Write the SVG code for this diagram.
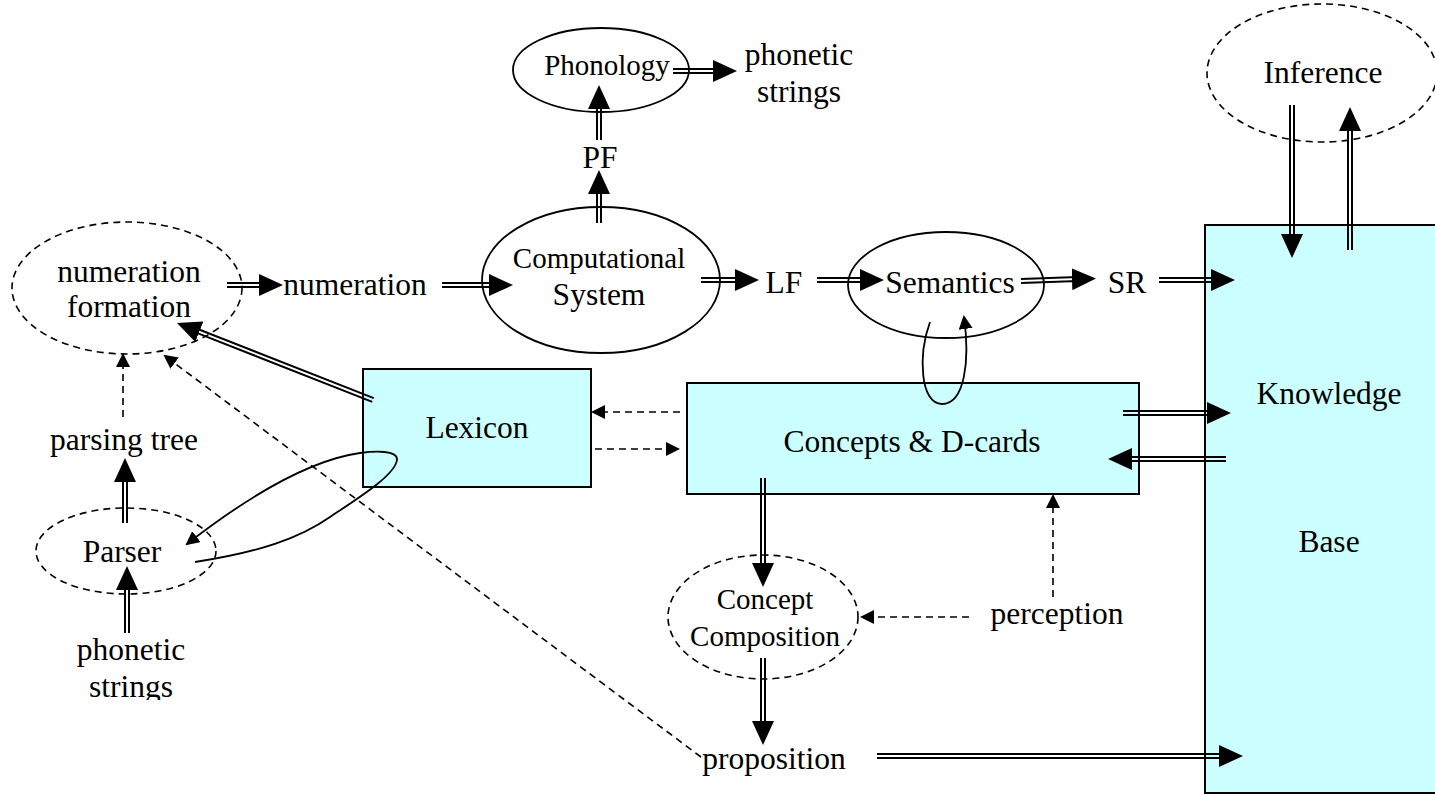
<svg xmlns="http://www.w3.org/2000/svg" width="1435" height="796" viewBox="0 0 1435 796">
<style>
.t{font-family:"Liberation Serif","Times New Roman",serif;font-size:31.5px;text-anchor:middle;fill:#000}
.s{font-size:29px}
.box{fill:#CCFFFF;stroke:#000;stroke-width:2}
.el{fill:none;stroke:#000;stroke-width:1.8}
.ed{fill:none;stroke:#000;stroke-width:1.6;stroke-dasharray:7 5}
.dl{fill:none;stroke:#000;stroke-width:2}
.mid{fill:none;stroke:none}
.dash{fill:none;stroke:#000;stroke-width:1.6;stroke-dasharray:7 5}
.cv{fill:none;stroke:#000;stroke-width:1.8}
</style>
<defs>
<marker id="big" viewBox="0 0 24 22" refX="6" refY="11" markerWidth="24" markerHeight="22" markerUnits="userSpaceOnUse" orient="auto"><path d="M0,0L24,11L0,22z" fill="#000"/></marker>
<marker id="sm" viewBox="0 0 14 14" refX="12" refY="7" markerWidth="14" markerHeight="14" markerUnits="userSpaceOnUse" orient="auto"><path d="M0,0L14,7L0,14z" fill="#000"/></marker>
<clipPath id="clipb"><rect x="0" y="0" width="400" height="700"/></clipPath>
</defs>

<g id="knowledge-base"><rect class="box" x="1205" y="225" width="240" height="568"/><text class="t" x="1329" y="404">Knowledge</text><text class="t" x="1329" y="552">Base</text></g>
<g id="concepts"><rect class="box" x="687" y="383" width="452" height="111"/><text class="t" x="912" y="452">Concepts &amp; D-cards</text></g>
<g id="lexicon"><rect class="box" x="363" y="369" width="228" height="118"/><text class="t" x="477" y="438">Lexicon</text></g>
<g id="phonology"><ellipse class="el" cx="601" cy="70" rx="88" ry="42"/><text class="t s" x="607" y="75">Phonology</text></g>
<g id="phonetic-strings-out"><text class="t" x="799" y="65">phonetic</text><text class="t" x="799" y="102">strings</text></g>
<g id="pf"><text class="t" x="600" y="168">PF</text></g>
<g id="computational-system"><ellipse class="el" cx="601" cy="280" rx="119" ry="73"/><text class="t s" x="599" y="268">Computational</text><text class="t" x="599" y="305">System</text></g>
<g id="numeration-formation"><ellipse class="ed" cx="127" cy="288" rx="115" ry="66"/><text class="t" x="129" y="282">numeration</text><text class="t" x="129" y="317">formation</text></g>
<g id="numeration"><text class="t" x="355" y="295">numeration</text></g>
<g id="lf"><text class="t" x="784" y="293">LF</text></g>
<g id="semantics"><ellipse class="el" cx="946" cy="285" rx="98" ry="53"/><text class="t" x="950" y="293">Semantics</text></g>
<g id="sr"><text class="t" x="1127" y="293">SR</text></g>
<g id="inference"><ellipse class="ed" cx="1322" cy="73" rx="115" ry="69"/><text class="t" x="1323" y="83">Inference</text></g>
<g id="parsing-tree"><text class="t" x="124" y="450">parsing tree</text></g>
<g id="parser"><ellipse class="ed" cx="126" cy="551" rx="90" ry="43"/><text class="t" x="122" y="562">Parser</text></g>
<g id="phonetic-strings-in" clip-path="url(#clipb)"><text class="t" x="131" y="660">phonetic</text><text class="t" x="131" y="697">strings</text></g>
<g id="concept-composition"><ellipse class="ed" cx="763" cy="617" rx="95" ry="62"/><text class="t s" x="765" y="609">Concept</text><text class="t s" x="765" y="646">Composition</text></g>
<g id="perception"><text class="t" x="1057" y="624">perception</text></g>
<g id="proposition"><text class="t" x="774" y="769">proposition</text></g>

<g id="connectors">
<!-- double arrows -->
<g transform="translate(673,71)"><path class="dl" d="M0,-2H46M0,2H46"/><path class="mid" d="M0,0H46" marker-end="url(#big)"/></g>
<g transform="translate(599,140) rotate(-90)"><path class="dl" d="M0,-2H37M0,2H37"/><path class="mid" d="M0,0H37" marker-end="url(#big)"/></g>
<g transform="translate(599,223) rotate(-90)"><path class="dl" d="M0,-2H35M0,2H35"/><path class="mid" d="M0,0H35" marker-end="url(#big)"/></g>
<g transform="translate(227,285)"><path class="dl" d="M0,-2H38M0,2H38"/><path class="mid" d="M0,0H38" marker-end="url(#big)"/></g>
<g transform="translate(442,285)"><path class="dl" d="M0,-2H53M0,2H53"/><path class="mid" d="M0,0H53" marker-end="url(#big)"/></g>
<g transform="translate(701,280)"><path class="dl" d="M0,-2H40M0,2H40"/><path class="mid" d="M0,0H40" marker-end="url(#big)"/></g>
<g transform="translate(817,280)"><path class="dl" d="M0,-2H49M0,2H49"/><path class="mid" d="M0,0H49" marker-end="url(#big)"/></g>
<g transform="translate(1021,281) rotate(-2)"><path class="dl" d="M0,-2H57M0,2H57"/><path class="mid" d="M0,0H57" marker-end="url(#big)"/></g>
<g transform="translate(1159,280)"><path class="dl" d="M0,-2H58M0,2H58"/><path class="mid" d="M0,0H58" marker-end="url(#big)"/></g>
<g transform="translate(1123,413)"><path class="dl" d="M0,-2H90M0,2H90"/><path class="mid" d="M0,0H90" marker-end="url(#big)"/></g>
<g transform="translate(1226,459) rotate(180)"><path class="dl" d="M0,-2H100M0,2H100"/><path class="mid" d="M0,0H100" marker-end="url(#big)"/></g>
<g transform="translate(877,756)"><path class="dl" d="M0,-2H348M0,2H348"/><path class="mid" d="M0,0H348" marker-end="url(#big)"/></g>
<g transform="translate(1292,105) rotate(90)"><path class="dl" d="M0,-2H135M0,2H135"/><path class="mid" d="M0,0H135" marker-end="url(#big)"/></g>
<g transform="translate(1350,250) rotate(-90)"><path class="dl" d="M0,-2H125M0,2H125"/><path class="mid" d="M0,0H125" marker-end="url(#big)"/></g>
<g transform="translate(373,400) rotate(-158.55)"><path class="dl" d="M0,-2H192.6M0,2H192.6"/><path class="mid" d="M0,0H192.6" marker-end="url(#big)"/></g>
<g transform="translate(125,523) rotate(-90)"><path class="dl" d="M0,-2H47M0,2H47"/><path class="mid" d="M0,0H47" marker-end="url(#big)"/></g>
<g transform="translate(127,633) rotate(-90)"><path class="dl" d="M0,-2H49M0,2H49"/><path class="mid" d="M0,0H49" marker-end="url(#big)"/></g>
<g transform="translate(763,478) rotate(90)"><path class="dl" d="M0,-2H91M0,2H91"/><path class="mid" d="M0,0H91" marker-end="url(#big)"/></g>
<g transform="translate(763,658) rotate(90)"><path class="dl" d="M0,-2H69M0,2H69"/><path class="mid" d="M0,0H69" marker-end="url(#big)"/></g>
<!-- dashed arrows -->
<path class="dash" d="M680,412H593" marker-end="url(#sm)"/>
<path class="dash" d="M595,449H678" marker-end="url(#sm)"/>
<path class="dash" d="M123,417V355" marker-end="url(#sm)"/>
<path class="dash" d="M701,757L165,356" marker-end="url(#sm)"/>
<path class="dash" d="M969,617H862" marker-end="url(#sm)"/>
<path class="dash" d="M1053,597V496" marker-end="url(#sm)"/>
<!-- solid curves -->
<path class="cv" d="M930,322C918,355 920,404 942,404C965,404 970,360 964,317" marker-end="url(#sm)"/>
<path class="cv" d="M195,562C260,552 300,538 330,517C360,497 395,475 397,460C398,450 375,451 360,453C310,460 250,495 187,544" marker-end="url(#sm)"/>
</g>
</svg>
